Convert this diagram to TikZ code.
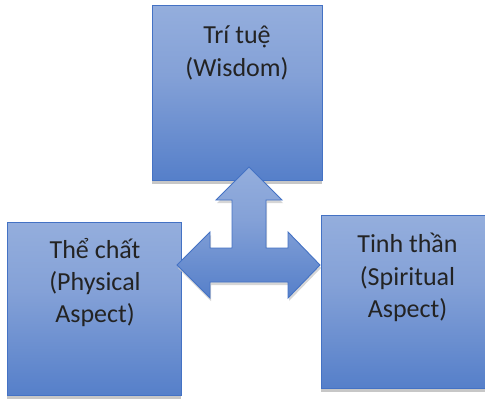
\documentclass[tikz,border=0pt]{standalone}
\usepackage{fontspec}
\setmainfont{Carlito}
\usetikzlibrary{shadows}
\definecolor{bord}{RGB}{68,114,196}
\definecolor{ctop}{RGB}{168,190,228}
\definecolor{cmid}{RGB}{132,161,215}
\definecolor{cbot}{RGB}{70,116,197}
\definecolor{txt}{RGB}{35,35,35}
\pgfdeclareverticalshading{boxshade}{100bp}{color(0bp)=(cbot); color(15bp)=(cbot); color(55bp)=(cmid); color(100bp)=(ctop)}
\begin{document}
\begin{tikzpicture}[x=1pt,y=-1pt,
  box/.style={draw=bord, line width=0.9pt, shading=boxshade, rectangle, inner sep=0pt,
    drop shadow={shadow xshift=0pt, shadow yshift=-3.5pt, fill=black!22, opacity=1}},
  bigarrow/.style={draw=bord, line width=0.9pt, shading=boxshade, line join=miter,
    drop shadow={shadow xshift=1pt, shadow yshift=-3pt, fill=black!20, opacity=0.8}},
  lbl/.style={font=\fontsize{26}{32}\selectfont, text=txt, anchor=base, inner sep=0pt}]
\useasboundingbox (0,0) rectangle (485,399);
% boxes
\node[box, minimum width=170pt, minimum height=175pt] (wis) at (237,92.5) {};
\node[box, minimum width=174pt, minimum height=173pt] (phy) at (94,308.5) {};
\node[box, minimum width=174pt, minimum height=173pt] (spi) at (408,301.5) {};
% labels
\node[lbl] (wis1) at (237,43) {Trí tuệ};
\node[lbl] (wis2) at (237,76) {(Wisdom)};
\node[lbl] (phy1) at (95,258) {Thể chất};
\node[lbl] (phy2) at (95,290) {(Physical};
\node[lbl] (phy3) at (95,322) {Aspect)};
\node[lbl] (spi1) at (407.5,252) {Tinh thần};
\node[lbl] (spi2) at (407.5,285) {(Spiritual};
\node[lbl] (spi3) at (407.5,317) {Aspect)};
% three-way arrow
\path[bigarrow] (249,167) -- (282,200) -- (266,200) -- (266,248) -- (288,248) -- (288,232)
  -- (320,265) -- (288,298) -- (288,282) -- (210,282) -- (210,298) -- (177,265)
  -- (210,232) -- (210,248) -- (232,248) -- (232,200) -- (216,200) -- cycle;
\end{tikzpicture}
\end{document}
